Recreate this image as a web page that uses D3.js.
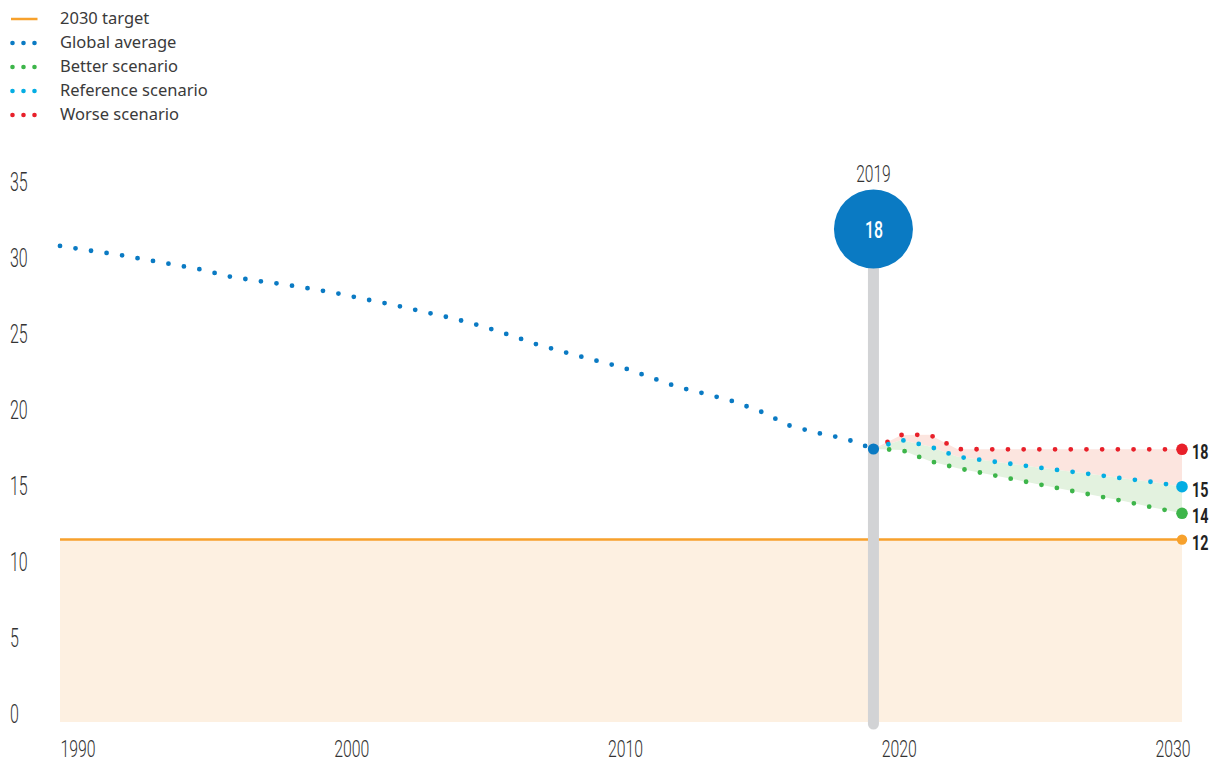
<!DOCTYPE html>
<html>
<head>
<meta charset="utf-8">
<script src="https://cdn.jsdelivr.net/npm/d3@7"></script>
<style>
  html, body { margin: 0; padding: 0; background: #fff; }
  svg { display: block; }
</style>
</head>
<body>
<svg id="chart" width="1216" height="763"></svg>
<script>
// ---------------- DATA ----------------
const globalYears = [1990,1991,1992,1993,1994,1995,1996,1997,1998,1999,2000,2001,2002,2003,2004,2005,2006,2007,2008,2009,2010,2011,2012,2013,2014,2015,2016,2017,2018,2019];
const globalAverage = [31.32,31.03,30.77,30.44,30.11,29.78,29.32,29.03,28.79,28.49,28.16,27.77,27.40,26.97,26.56,26.07,25.48,24.84,24.33,23.83,23.36,22.71,22.05,21.60,21.10,20.41,19.51,19.02,18.64,17.96];

const scenarioYears = [2019,2020,2021,2022,2023,2024,2025,2026,2027,2028,2029,2030];
const betterScenario = [17.96,17.90,17.17,16.70,16.34,15.97,15.60,15.23,14.87,14.50,14.10,13.73];
const referenceScenario = [17.96,18.55,18.13,17.45,17.20,16.96,16.71,16.48,16.25,16.00,15.78,15.48];
const worseScenario = [17.96,18.88,18.90,17.95,17.94,17.94,17.94,17.94,17.94,17.94,17.94,17.94];

const targetYears = [1990, 2030];
const targetValue = 12;

const highlightYear = 2019;
const highlightValue = "18";
const endLabels = ["18", "15", "14", "12"]; // worse, reference, better, target

const yTicks = [0, 5, 10, 15, 20, 25, 30, 35];
const xTicks = [1990, 2000, 2010, 2020, 2030];

const legendLabels = ["2030 target", "Global average", "Better scenario", "Reference scenario", "Worse scenario"];

// ---------------- STYLE ----------------
const C = {
  orange: "#f7a12c",
  orangeFill: "#fdf0e1",
  blue: "#0a7ac3",
  green: "#3db54a",
  lightBlue: "#04ade3",
  red: "#e8202a",
  pinkFill: "#fce5df",
  greenFill: "#e3f2df",
  grey: "#d2d3d5",
  text: "#333333"
};

const svg = d3.select("#chart");
const x = d3.scaleLinear().domain([1990, 2030]).range([60, 1182]);
const xLabel = d3.scaleLinear().domain([1990, 2030]).range([60, 1155]);
const y = d3.scaleLinear().domain([0, 35]).range([722, 190]);

const condensed = "Roboto, 'Liberation Sans', sans-serif";

// target fill
svg.append("path")
  .datum(targetYears)
  .attr("fill", C.orangeFill)
  .attr("d", d3.area().x(d => x(d)).y0(y(0)).y1(y(targetValue)));

// scenario areas
const zipS = (a, b) => scenarioYears.map((yr, i) => ({yr, top: a[i], bot: b[i]}));
svg.append("path")
  .datum(zipS(worseScenario, referenceScenario))
  .attr("fill", C.pinkFill)
  .attr("d", d3.area().x(d => x(d.yr)).y0(d => y(d.bot)).y1(d => y(d.top)));
svg.append("path")
  .datum(zipS(referenceScenario, betterScenario))
  .attr("fill", C.greenFill)
  .attr("d", d3.area().x(d => x(d.yr)).y0(d => y(d.bot)).y1(d => y(d.top)));

// target line
svg.append("line")
  .attr("x1", x(targetYears[0])).attr("x2", x(targetYears[1]))
  .attr("y1", y(targetValue)).attr("y2", y(targetValue))
  .attr("stroke", C.orange).attr("stroke-width", 2.5);

// grey highlight bar
svg.append("line")
  .attr("x1", x(highlightYear)).attr("x2", x(highlightYear))
  .attr("y1", 235).attr("y2", y(0) + 2)
  .attr("stroke", C.grey).attr("stroke-width", 11).attr("stroke-linecap", "round");

// dotted lines
function dotted(years, vals, color) {
  svg.append("path")
    .datum(years.map((yr, i) => [yr, vals[i]]))
    .attr("fill", "none")
    .attr("stroke", color)
    .attr("stroke-width", 4.8)
    .attr("stroke-linecap", "round")
    .attr("stroke-dasharray", "0 15.7")
    .attr("d", d3.line().x(d => x(d[0])).y(d => y(d[1])));
}
dotted(globalYears, globalAverage, C.blue);
dotted(scenarioYears, worseScenario, C.red);
dotted(scenarioYears, referenceScenario, C.lightBlue);
dotted(scenarioYears, betterScenario, C.green);

// end circles
const ends = [
  {v: worseScenario[worseScenario.length - 1], c: C.red, label: endLabels[0]},
  {v: referenceScenario[referenceScenario.length - 1], c: C.lightBlue, label: endLabels[1]},
  {v: betterScenario[betterScenario.length - 1], c: C.green, label: endLabels[2]},
  {v: targetValue, c: C.orange, label: endLabels[3]}
];
svg.selectAll("circle.end").data(ends).enter().append("circle")
  .attr("class", "end")
  .attr("cx", x(2030)).attr("cy", d => y(d.v)).attr("r", d => d.c === C.orange ? 5.2 : 5.8)
  .attr("fill", d => d.c);
svg.selectAll("text.end").data(ends).enter().append("text")
  .attr("class", "end")
  .attr("transform", d => `translate(${x(2030) + 10},${y(d.v) + 10}) scale(0.68,1)`)
  .attr("font-family", condensed).attr("font-weight", 700).attr("font-size", 21)
  .attr("fill", "#222")
  .text(d => d.label);

// 2019 point on global line
svg.append("circle")
  .attr("cx", x(highlightYear)).attr("cy", y(globalAverage[globalAverage.length - 1]))
  .attr("r", 5.6).attr("fill", C.blue);

// big bubble
svg.append("circle")
  .attr("cx", x(highlightYear)).attr("cy", 229).attr("r", 39.5).attr("fill", C.blue);
svg.append("text")
  .attr("transform", `translate(${x(highlightYear) + 0.5},238) scale(0.66,1)`)
  .attr("text-anchor", "middle")
  .attr("font-family", condensed).attr("font-weight", 500).attr("font-size", 24)
  .attr("fill", "#fff").text(highlightValue);
svg.append("text")
  .attr("transform", `translate(${x(highlightYear)},182) scale(0.65,1)`)
  .attr("text-anchor", "middle")
  .attr("font-family", condensed).attr("font-weight", 300).attr("font-size", 24)
  .attr("fill", C.text).text(String(highlightYear));

// y axis
const yAxis = svg.append("g")
  .call(d3.axisLeft(y).tickValues(yTicks).tickSize(0).tickFormat(d3.format("d")));
yAxis.select(".domain").remove();
yAxis.selectAll("text")
  .attr("x", 0).attr("dy", 0)
  .attr("text-anchor", "start")
  .attr("transform", "translate(10,0) scale(0.64,1)")
  .attr("font-family", condensed).attr("font-weight", 300).attr("font-size", 25)
  .attr("fill", C.text);

// x axis
const xAxis = svg.append("g")
  .attr("transform", "translate(0,757)")
  .call(d3.axisBottom(xLabel).tickValues(xTicks).tickSize(0).tickFormat(d3.format("d")));
xAxis.select(".domain").remove();
xAxis.selectAll("text")
  .attr("y", 0).attr("dy", 0)
  .attr("text-anchor", "start")
  .attr("transform", "scale(0.66,1)")
  .attr("font-family", condensed).attr("font-weight", 300).attr("font-size", 24)
  .attr("fill", C.text);

// legend
const legend = svg.append("g");
const legendColors = [C.orange, C.blue, C.green, C.lightBlue, C.red];
legendLabels.forEach((lab, i) => {
  const cy = 18.5 + i * 24;
  if (i === 0) {
    legend.append("line").attr("x1", 11).attr("x2", 37.5).attr("y1", cy + 0.5).attr("y2", cy + 0.5)
      .attr("stroke", legendColors[i]).attr("stroke-width", 2.5);
  } else {
    [12.5, 23.5, 34.5].forEach(cx => legend.append("circle")
      .attr("cx", cx).attr("cy", cy + 0.5).attr("r", 2.3).attr("fill", legendColors[i]));
  }
  legend.append("text")
    .attr("x", 60).attr("y", cy + 5.5)
    .attr("font-family", "'Noto Sans', sans-serif").attr("font-size", 16.5)
    .attr("fill", "#3a3a3a").text(lab);
});
</script>
</body>
</html>
